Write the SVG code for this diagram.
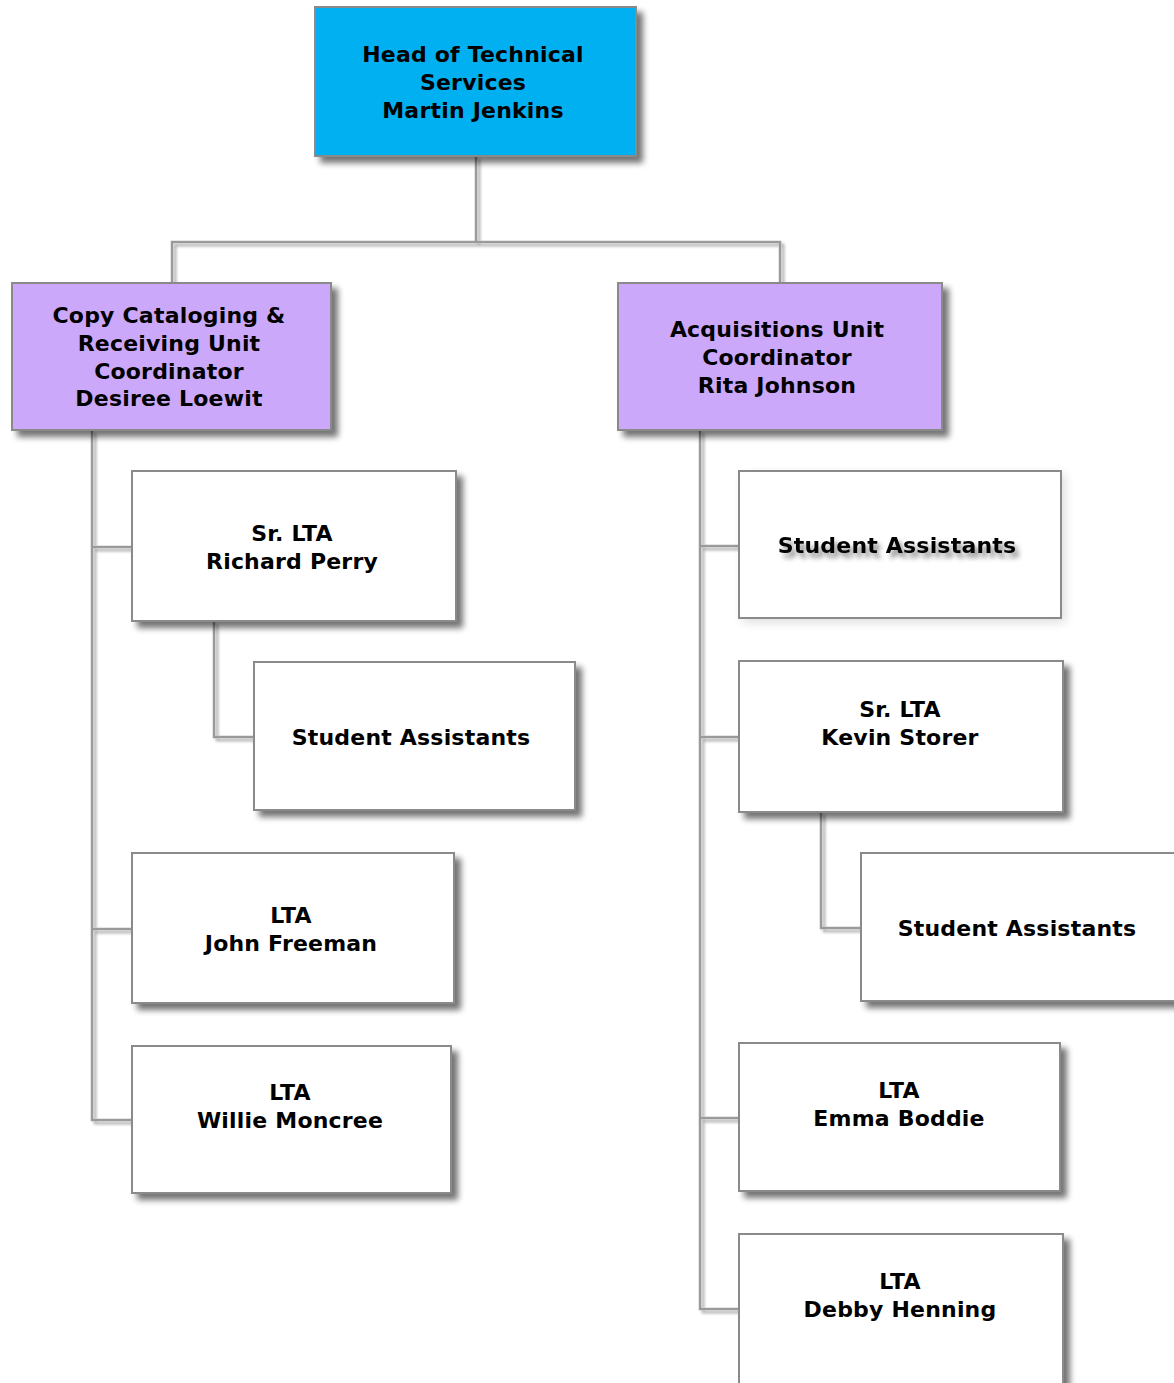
<svg xmlns="http://www.w3.org/2000/svg" width="1174" height="1383" viewBox="0 0 1174 1383">
<defs>
<filter id="sh" x="-10%" y="-10%" width="130%" height="140%">
<feGaussianBlur in="SourceAlpha" stdDeviation="3"/>
<feOffset dx="6" dy="6" result="b"/>
<feComponentTransfer><feFuncA type="linear" slope="0.55"/></feComponentTransfer>
<feMerge><feMergeNode/><feMergeNode in="SourceGraphic"/></feMerge>
</filter>
<filter id="lsh" x="-10%" y="-10%" width="130%" height="130%">
<feGaussianBlur in="SourceAlpha" stdDeviation="1.5"/>
<feOffset dx="3" dy="3" result="b"/>
<feComponentTransfer><feFuncA type="linear" slope="0.35"/></feComponentTransfer>
<feMerge><feMergeNode/><feMergeNode in="SourceGraphic"/></feMerge>
</filter>
<filter id="soft" x="-10%" y="-10%" width="130%" height="130%">
<feGaussianBlur in="SourceAlpha" stdDeviation="5"/>
<feOffset dx="4" dy="4" result="b"/>
<feComponentTransfer><feFuncA type="linear" slope="0.12"/></feComponentTransfer>
<feMerge><feMergeNode/><feMergeNode in="SourceGraphic"/></feMerge>
</filter>
<filter id="tsh" x="-10%" y="-50%" width="130%" height="220%">
<feGaussianBlur in="SourceAlpha" stdDeviation="2.5"/>
<feOffset dx="4" dy="5" result="b"/>
<feComponentTransfer><feFuncA type="linear" slope="0.45"/></feComponentTransfer>
<feMerge><feMergeNode/><feMergeNode in="SourceGraphic"/></feMerge>
</filter>
</defs>
<style>
.box{stroke:#8a8a8a;stroke-width:2}
.w{fill:#ffffff}
.blue{fill:#00B0F0}
.purple{fill:#CBA8FA}
.t{font-family:"DejaVu Sans",Verdana,sans-serif;font-weight:bold;font-size:22px;letter-spacing:0.2px;fill:#000;text-anchor:middle}
.c{fill:none;stroke:#9a9a9a;stroke-width:2.5}
</style>
<rect width="1174" height="1383" fill="#ffffff"/>
<g id="connectors" filter="url(#lsh)">
<polyline class="c" points="476,156 476,242"/>
<polyline class="c" points="172,283 172,242 780,242 780,283"/>
<polyline class="c" points="92,430 92,1120 132,1120"/>
<polyline class="c" points="92,547 132,547"/>
<polyline class="c" points="92,929 132,929"/>
<polyline class="c" points="214,621 214,737 254,737"/>
<polyline class="c" points="700,430 700,1309 739,1309"/>
<polyline class="c" points="700,546 739,546"/>
<polyline class="c" points="700,737 739,737"/>
<polyline class="c" points="700,1118 739,1118"/>
<polyline class="c" points="821,812 821,928 861,928"/>
</g>
<g id="head">
<rect class="box blue" x="315" y="7" width="321" height="149" filter="url(#sh)"/>
<text class="t" x="473" y="62">Head of Technical</text>
<text class="t" x="473" y="90">Services</text>
<text class="t" x="473" y="118">Martin Jenkins</text>
</g>
<g id="copycat">
<rect class="box purple" x="12" y="283" width="319" height="147" filter="url(#sh)"/>
<text class="t" x="169" y="323">Copy Cataloging &amp;</text>
<text class="t" x="169" y="351">Receiving Unit</text>
<text class="t" x="169" y="379">Coordinator</text>
<text class="t" x="169" y="406">Desiree Loewit</text>
</g>
<g id="acq">
<rect class="box purple" x="618" y="283" width="324" height="147" filter="url(#sh)"/>
<text class="t" x="777" y="337">Acquisitions Unit</text>
<text class="t" x="777" y="365">Coordinator</text>
<text class="t" x="777" y="393">Rita Johnson</text>
</g>
<g id="perry">
<rect class="box w" x="132" y="471" width="324" height="150" filter="url(#sh)"/>
<text class="t" x="292" y="541">Sr. LTA</text>
<text class="t" x="292" y="569">Richard Perry</text>
</g>
<g id="sa-left">
<rect class="box w" x="254" y="662" width="321" height="148" filter="url(#sh)"/>
<text class="t" x="411" y="745">Student Assistants</text>
</g>
<g id="freeman">
<rect class="box w" x="132" y="853" width="322" height="150" filter="url(#sh)"/>
<text class="t" x="291" y="923">LTA</text>
<text class="t" x="291" y="951">John Freeman</text>
</g>
<g id="moncree">
<rect class="box w" x="132" y="1046" width="319" height="147" filter="url(#sh)"/>
<text class="t" x="290" y="1100">LTA</text>
<text class="t" x="290" y="1128">Willie Moncree</text>
</g>
<g id="sa-right-top">
<rect class="box w" x="739" y="471" width="322" height="147" filter="url(#soft)"/>
<text class="t" x="897" y="553" filter="url(#tsh)">Student Assistants</text>
</g>
<g id="storer">
<rect class="box w" x="739" y="661" width="324" height="151" filter="url(#sh)"/>
<text class="t" x="900" y="717">Sr. LTA</text>
<text class="t" x="900" y="745">Kevin Storer</text>
</g>
<g id="sa-right">
<rect class="box w" x="861" y="853" width="330" height="148" filter="url(#sh)"/>
<text class="t" x="1017" y="936">Student Assistants</text>
</g>
<g id="boddie">
<rect class="box w" x="739" y="1043" width="321" height="148" filter="url(#sh)"/>
<text class="t" x="899" y="1098">LTA</text>
<text class="t" x="899" y="1126">Emma Boddie</text>
</g>
<g id="henning">
<rect class="box w" x="739" y="1234" width="324" height="160" filter="url(#sh)"/>
<text class="t" x="900" y="1289">LTA</text>
<text class="t" x="900" y="1317">Debby Henning</text>
</g>
</svg>
